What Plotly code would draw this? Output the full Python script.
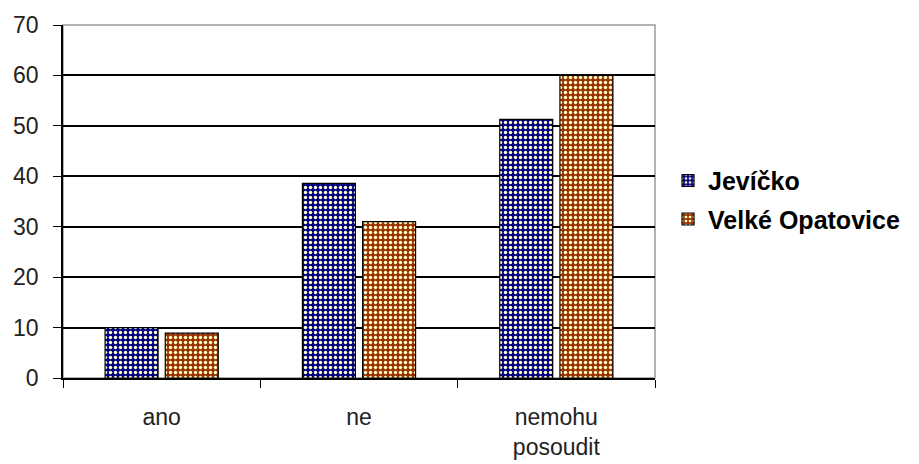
import plotly.graph_objects as go

categories = ["ano", "ne", "nemohu<br>posoudit"]
jevicko = [10, 38.6, 51.3]
velke_opatovice = [8.9, 31.0, 60.0]
y_ticks = [0, 10, 20, 30, 40, 50, 60, 70]

font_family = "Liberation Sans, Arial, sans-serif"

fig = go.Figure()

fig.add_trace(go.Bar(
    x=categories,
    y=jevicko,
    name="Jevíčko",
    legendgroup="a",
    marker=dict(
        color="#000080",
        line=dict(color="black", width=1.2),
        pattern=dict(shape=".", fgcolor="#FFFFCC", bgcolor="#000080",
                     size=5, solidity=0.36, fillmode="replace"),
    ),
))
fig.add_trace(go.Bar(
    x=categories,
    y=velke_opatovice,
    name="Velké Opatovice",
    legendgroup="b",
    marker=dict(
        color="#993300",
        line=dict(color="black", width=1.2),
        pattern=dict(shape=".", fgcolor="#FFFFCC", bgcolor="#993300",
                     size=5, solidity=0.36, fillmode="replace"),
    ),
))

# šedý rámeček plochy grafu (nahoře a vpravo)
fig.add_shape(type="rect", xref="x domain", yref="y domain",
              x0=0, x1=1, y0=0, y1=1,
              line=dict(color="#999999", width=1.5), layer="below")

# stránka má okraj 8 px, proto menší rozměry a okraje
fig.update_layout(
    width=911, height=456,
    margin=dict(l=55, r=264, t=17, b=86),
    paper_bgcolor="white", plot_bgcolor="white",
    barmode="group", bargap=0.39, bargroupgap=0.12,
    font=dict(family=font_family, size=23, color="#222222"),
    showlegend=True,
    legend=dict(
        x=1.022, y=0.505, xanchor="left", yanchor="middle",
        font=dict(family=font_family, size=25, color="black", weight="bold"),
        itemwidth=30, tracegroupgap=3,
    ),
)

fig.update_xaxes(
    automargin=False,
    showline=True, linecolor="black", linewidth=1.5,
    ticks="outside", tickson="boundaries", ticklen=8, tickcolor="black",
    ticklabelstandoff=18,
    showgrid=False,
)
fig.update_yaxes(
    automargin=False,
    range=[0, 70], tickvals=y_ticks,
    showline=True, linecolor="black", linewidth=1.5,
    ticks="outside", ticklen=8, tickcolor="black",
    ticklabelstandoff=10,
    showgrid=True, gridcolor="black", gridwidth=1.5,
    zeroline=False,
)

fig.write_html("out.html")
